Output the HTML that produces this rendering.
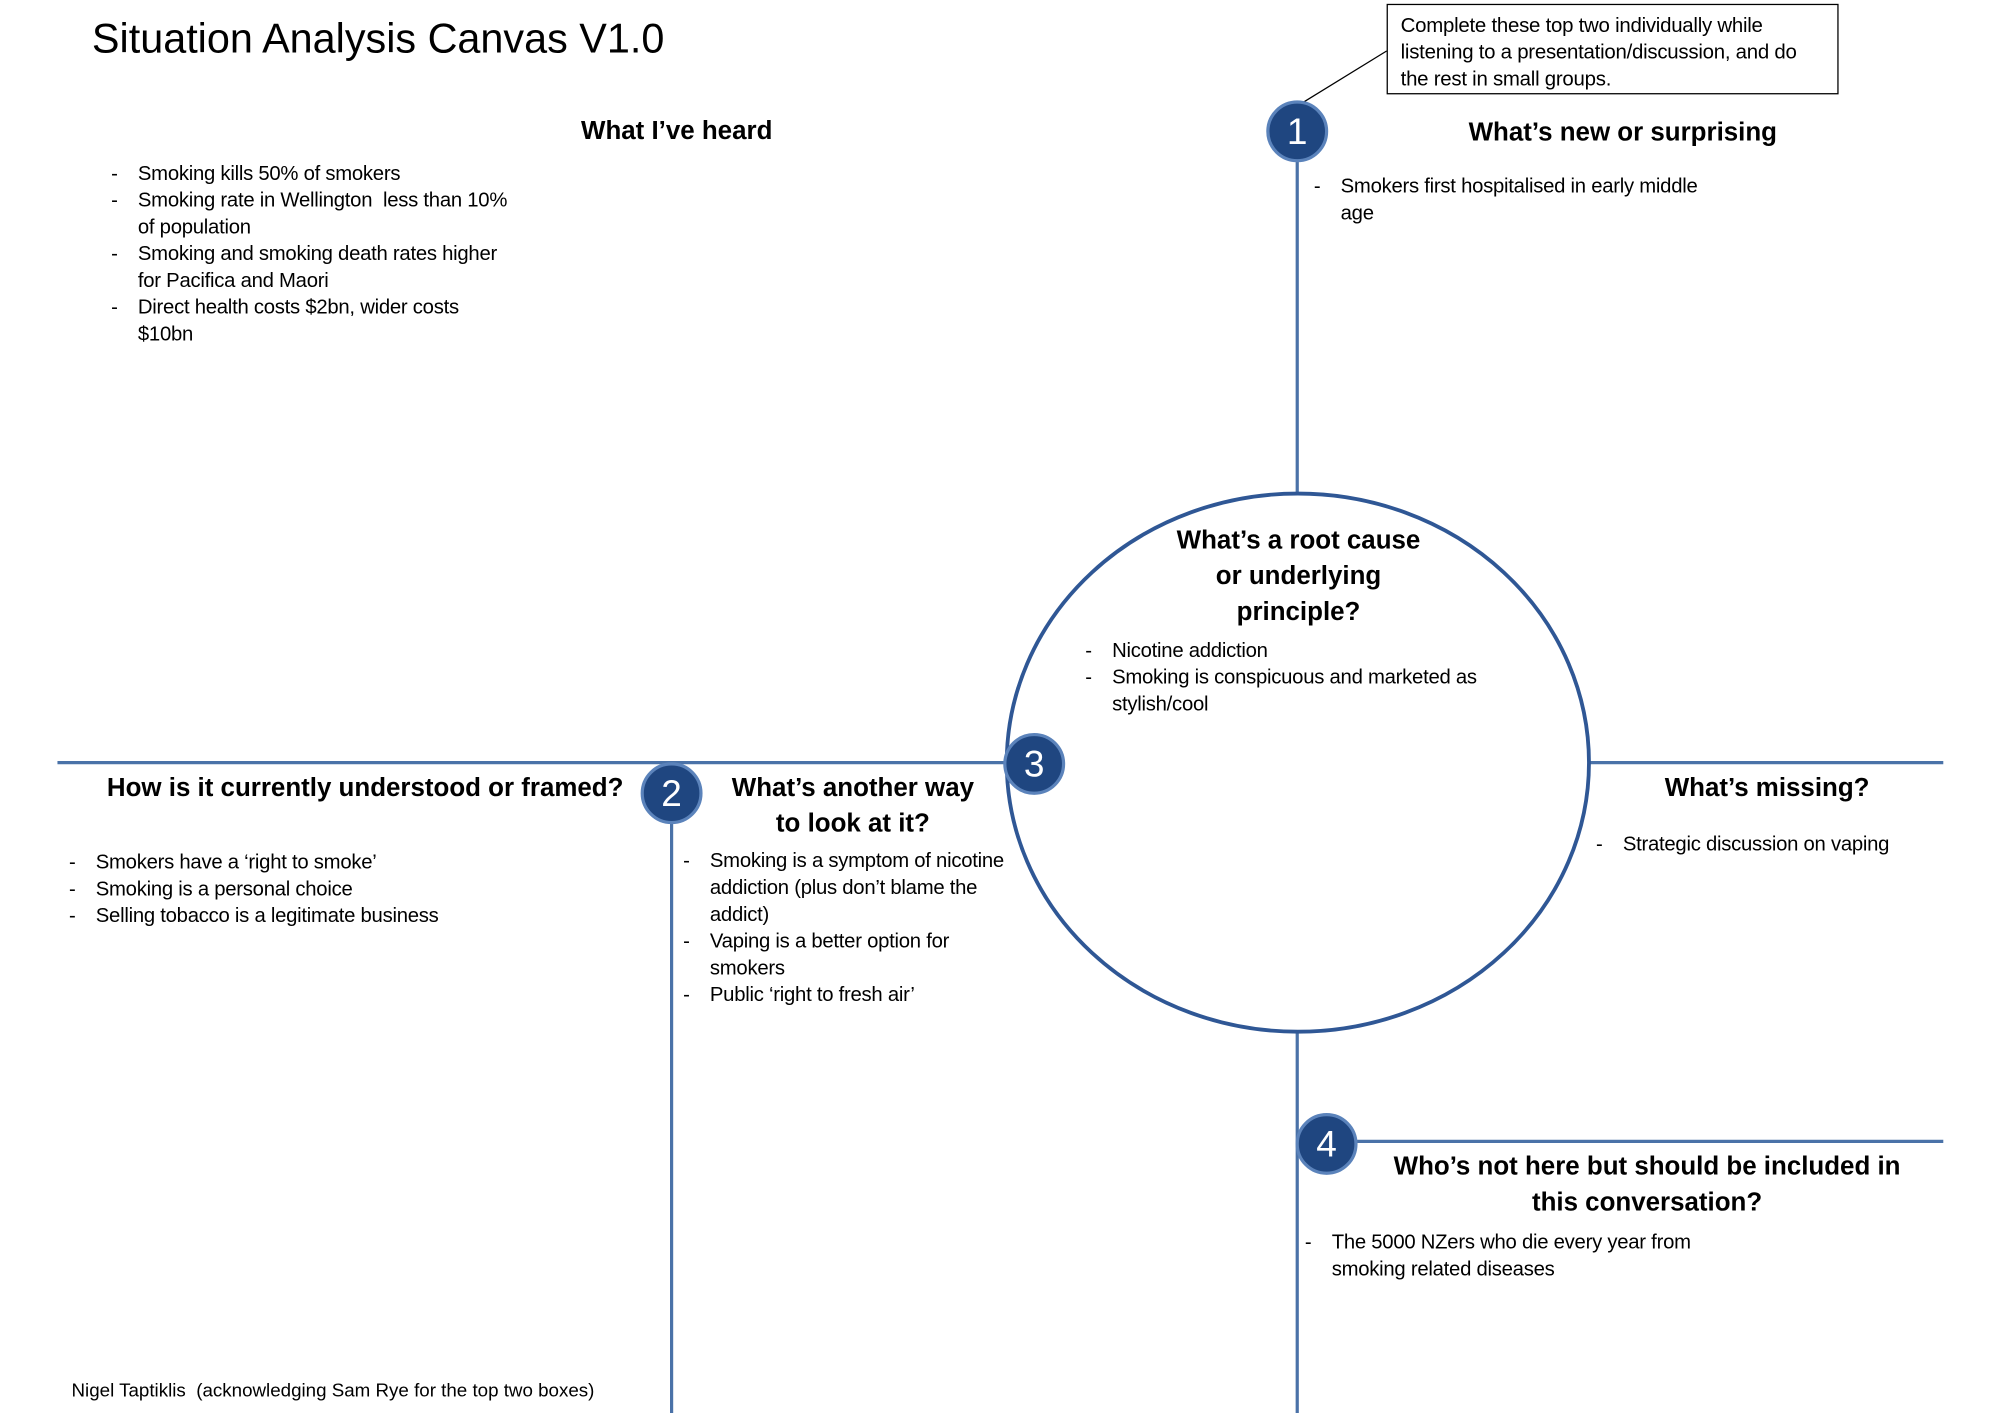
<!DOCTYPE html>
<html><head><meta charset="utf-8"><style>
html,body{margin:0;padding:0;background:#fff;width:2000px;height:1413px;overflow:hidden}
#s{position:absolute;left:0;top:0;width:1553px;height:1108px;transform-origin:0 0;transform:scale(1.2768,1.2753);font-family:"Liberation Sans",sans-serif;color:#000}
.t{position:absolute;white-space:nowrap}
.h{position:absolute;font-weight:bold;font-size:20.3px;line-height:28px;text-align:center;white-space:nowrap}
.b{position:absolute;font-size:15.9px;line-height:21px;letter-spacing:-0.2px}
.b div{position:relative;padding-left:21px;white-space:nowrap}
.b div.d:before{content:"-";position:absolute;left:0}
svg{position:absolute;left:0;top:0}
</style></head><body><div id="s">
<svg width="1553" height="1108" viewBox="0 0 1553 1108">
<g stroke="#4a72a8" stroke-width="2.5" fill="none">
<line x1="1016" y1="103" x2="1016" y2="387"/>
<line x1="1016" y1="809" x2="1016" y2="1108"/>
<line x1="45" y1="598" x2="789" y2="598"/>
<line x1="1245" y1="598" x2="1522" y2="598"/>
<line x1="526" y1="622" x2="526" y2="1108"/>
<line x1="1039" y1="895" x2="1522" y2="895"/>
</g>
<ellipse cx="1016.5" cy="598" rx="228" ry="211" fill="none" stroke="#2f5795" stroke-width="3"/>
<line x1="1086" y1="40" x2="1021" y2="80" stroke="#000" stroke-width="1"/>
<g fill="#1f4680" stroke="#5b83bb" stroke-width="2.5">
<circle cx="1016" cy="103" r="23"/>
<circle cx="810" cy="599" r="23"/>
<circle cx="526" cy="622" r="23"/>
<circle cx="1039" cy="897" r="23"/>
</g>
<g fill="#fff" font-family="Liberation Sans,sans-serif" font-size="29" text-anchor="middle">
<text x="1016" y="113">1</text>
<text x="810" y="609">3</text>
<text x="526" y="632">2</text>
<text x="1039" y="907">4</text>
</g>
</svg>
<div class="t" style="left:72px;top:10px;font-size:32.4px;line-height:40px">Situation Analysis Canvas V1.0</div>
<div style="position:absolute;left:1086px;top:3px;width:352px;height:69px;border:1px solid #000"></div>
<div class="b" style="left:1097px;top:10px;font-size:16px"><div style="padding:0">Complete these top two individually while</div><div style="padding:0">listening to a presentation/discussion, and do</div><div style="padding:0">the rest in small groups.</div></div>

<div class="h" style="left:380px;width:300px;top:89px">What I’ve heard</div>
<div class="b" style="left:87px;top:126px"><div class="d">Smoking kills 50% of smokers</div><div class="d">Smoking rate in Wellington&nbsp; less than 10%</div><div>of population</div><div class="d">Smoking and smoking death rates higher</div><div>for Pacifica and Maori</div><div class="d">Direct health costs $2bn, wider costs</div><div>$10bn</div></div>

<div class="h" style="left:1121px;width:300px;top:90px">What’s new or surprising</div>
<div class="b" style="left:1029px;top:136px"><div class="d">Smokers first hospitalised in early middle</div><div>age</div></div>

<div class="h" style="left:867px;width:300px;top:410px;line-height:28px">What’s a root cause<br>or underlying<br>principle?</div>
<div class="b" style="left:850px;top:500px"><div class="d">Nicotine addiction</div><div class="d">Smoking is conspicuous and marketed as</div><div>stylish/cool</div></div>

<div class="h" style="left:72px;width:428px;top:604px">How is it currently understood or framed?</div>
<div class="b" style="left:54px;top:666px"><div class="d">Smokers have a ‘right to smoke’</div><div class="d">Smoking is a personal choice</div><div class="d">Selling tobacco is a legitimate business</div></div>

<div class="h" style="left:548px;width:240px;top:604px">What’s another way<br>to look at it?</div>
<div class="b" style="left:535px;top:665px"><div class="d">Smoking is a symptom of nicotine</div><div>addiction (plus don’t blame the</div><div>addict)</div><div class="d">Vaping is a better option for</div><div>smokers</div><div class="d">Public ‘right to fresh air’</div></div>

<div class="h" style="left:1284px;width:200px;top:604px">What’s missing?</div>
<div class="b" style="left:1250px;top:652px"><div class="d">Strategic discussion on vaping</div></div>

<div class="h" style="left:1070px;width:440px;top:901px">Who’s not here but should be included in<br>this conversation?</div>
<div class="b" style="left:1022px;top:964px"><div class="d">The 5000 NZers who die every year from</div><div>smoking related diseases</div></div>

<div class="t" style="left:56px;top:1082px;font-size:14.7px;line-height:18px">Nigel Taptiklis&nbsp; (acknowledging Sam Rye for the top two boxes)</div>
</div></body></html>
